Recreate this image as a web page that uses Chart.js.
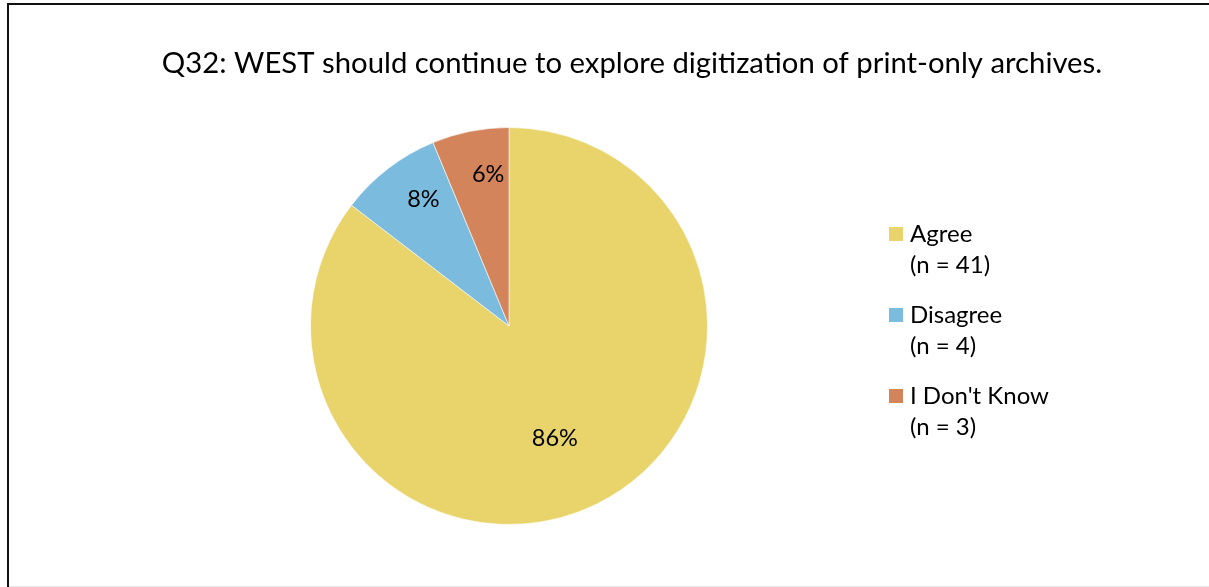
<!DOCTYPE html>
<html lang="en">
<head>
  <meta charset="UTF-8" />
  <title>Q32</title>
  <style>
    * { margin: 0; padding: 0; box-sizing: border-box; }
    body { background: #fff; width: 1209px; height: 587px; overflow: hidden; }
    canvas { display: block; }
  </style>
</head>
<body>
  <canvas id="grafik" width="1209" height="587"></canvas>

  <script src="https://cdn.jsdelivr.net/npm/chart.js"></script>
  <script>
    // data
    const judul = "Q32: WEST should continue to explore digitization of print-only archives.";
    const kategori = ["Agree", "Disagree", "I Don't Know"];
    const jumlah = [41, 4, 3];
    const labelPersen = ["86%", "8%", "6%"];
    const labelN = ["(n = 41)", "(n = 4)", "(n = 3)"];
    const warna = ["#E8D46B", "#7ABBDE", "#D4845B"];

    const FONT = "Lato, 'Open Sans', sans-serif";

    // bingkai + judul + legenda + label persen
    const hiasan = {
      id: "hiasan",
      beforeDraw(chart) {
        const c = chart.ctx;
        c.save();
        c.fillStyle = "#fff";
        c.fillRect(0, 0, chart.width, chart.height);
        c.strokeStyle = "#111";
        c.lineWidth = 2;
        c.beginPath();
        c.moveTo(8, 587);
        c.lineTo(8, 4);
        c.lineTo(1209, 4);
        c.stroke();
        c.strokeStyle = "#e6e6e6";
        c.lineWidth = 1;
        c.beginPath();
        c.moveTo(9, 586.5);
        c.lineTo(1209, 586.5);
        c.stroke();
        c.restore();
      },
      afterDraw(chart) {
        const c = chart.ctx;
        c.save();
        c.fillStyle = "#000";
        c.textBaseline = "alphabetic";

        // judul
        c.font = "29.3px " + FONT;
        c.textAlign = "center";
        c.fillText(judul, 632, 73);

        // label persen di dalam irisan
        c.font = "23.5px " + FONT;
        c.textBaseline = "middle";
        const meta = chart.getDatasetMeta(0);
        meta.data.forEach((arc, i) => {
          const p = arc.getProps(["x", "y", "startAngle", "endAngle", "outerRadius"], true);
          const mid = (p.startAngle + p.endAngle) / 2 + (i === 0 ? 0.07 : 0.06);
          const f = i === 0 ? 0.61 : 0.77;
          c.fillText(labelPersen[i], p.x + Math.cos(mid) * p.outerRadius * f, p.y + Math.sin(mid) * p.outerRadius * f);
        });

        // legenda
        c.textAlign = "left";
        c.textBaseline = "alphabetic";
        c.font = "24px " + FONT;
        kategori.forEach((k, i) => {
          const y = 242 + i * 81;
          c.fillStyle = warna[i];
          c.fillRect(889, y - 15, 14, 14);
          c.fillStyle = "#000";
          c.fillText(k, 910, y);
          c.fillText(labelN[i], 910, y + 31);
        });
        c.restore();
      }
    };

    new Chart(document.getElementById("grafik"), {
      type: "pie",
      data: {
        labels: kategori,
        datasets: [{
          data: jumlah,
          backgroundColor: warna,
          borderColor: "rgba(255,255,255,0.6)",
          borderWidth: 1
        }]
      },
      options: {
        responsive: false,
        devicePixelRatio: 1,
        animation: false,
        layout: { padding: { left: 310, right: 501, top: 127, bottom: 62 } },
        plugins: {
          legend: { display: false },
          title: { display: false },
          tooltip: { enabled: false }
        }
      },
      plugins: [hiasan]
    });
  </script>
</body>
</html>
